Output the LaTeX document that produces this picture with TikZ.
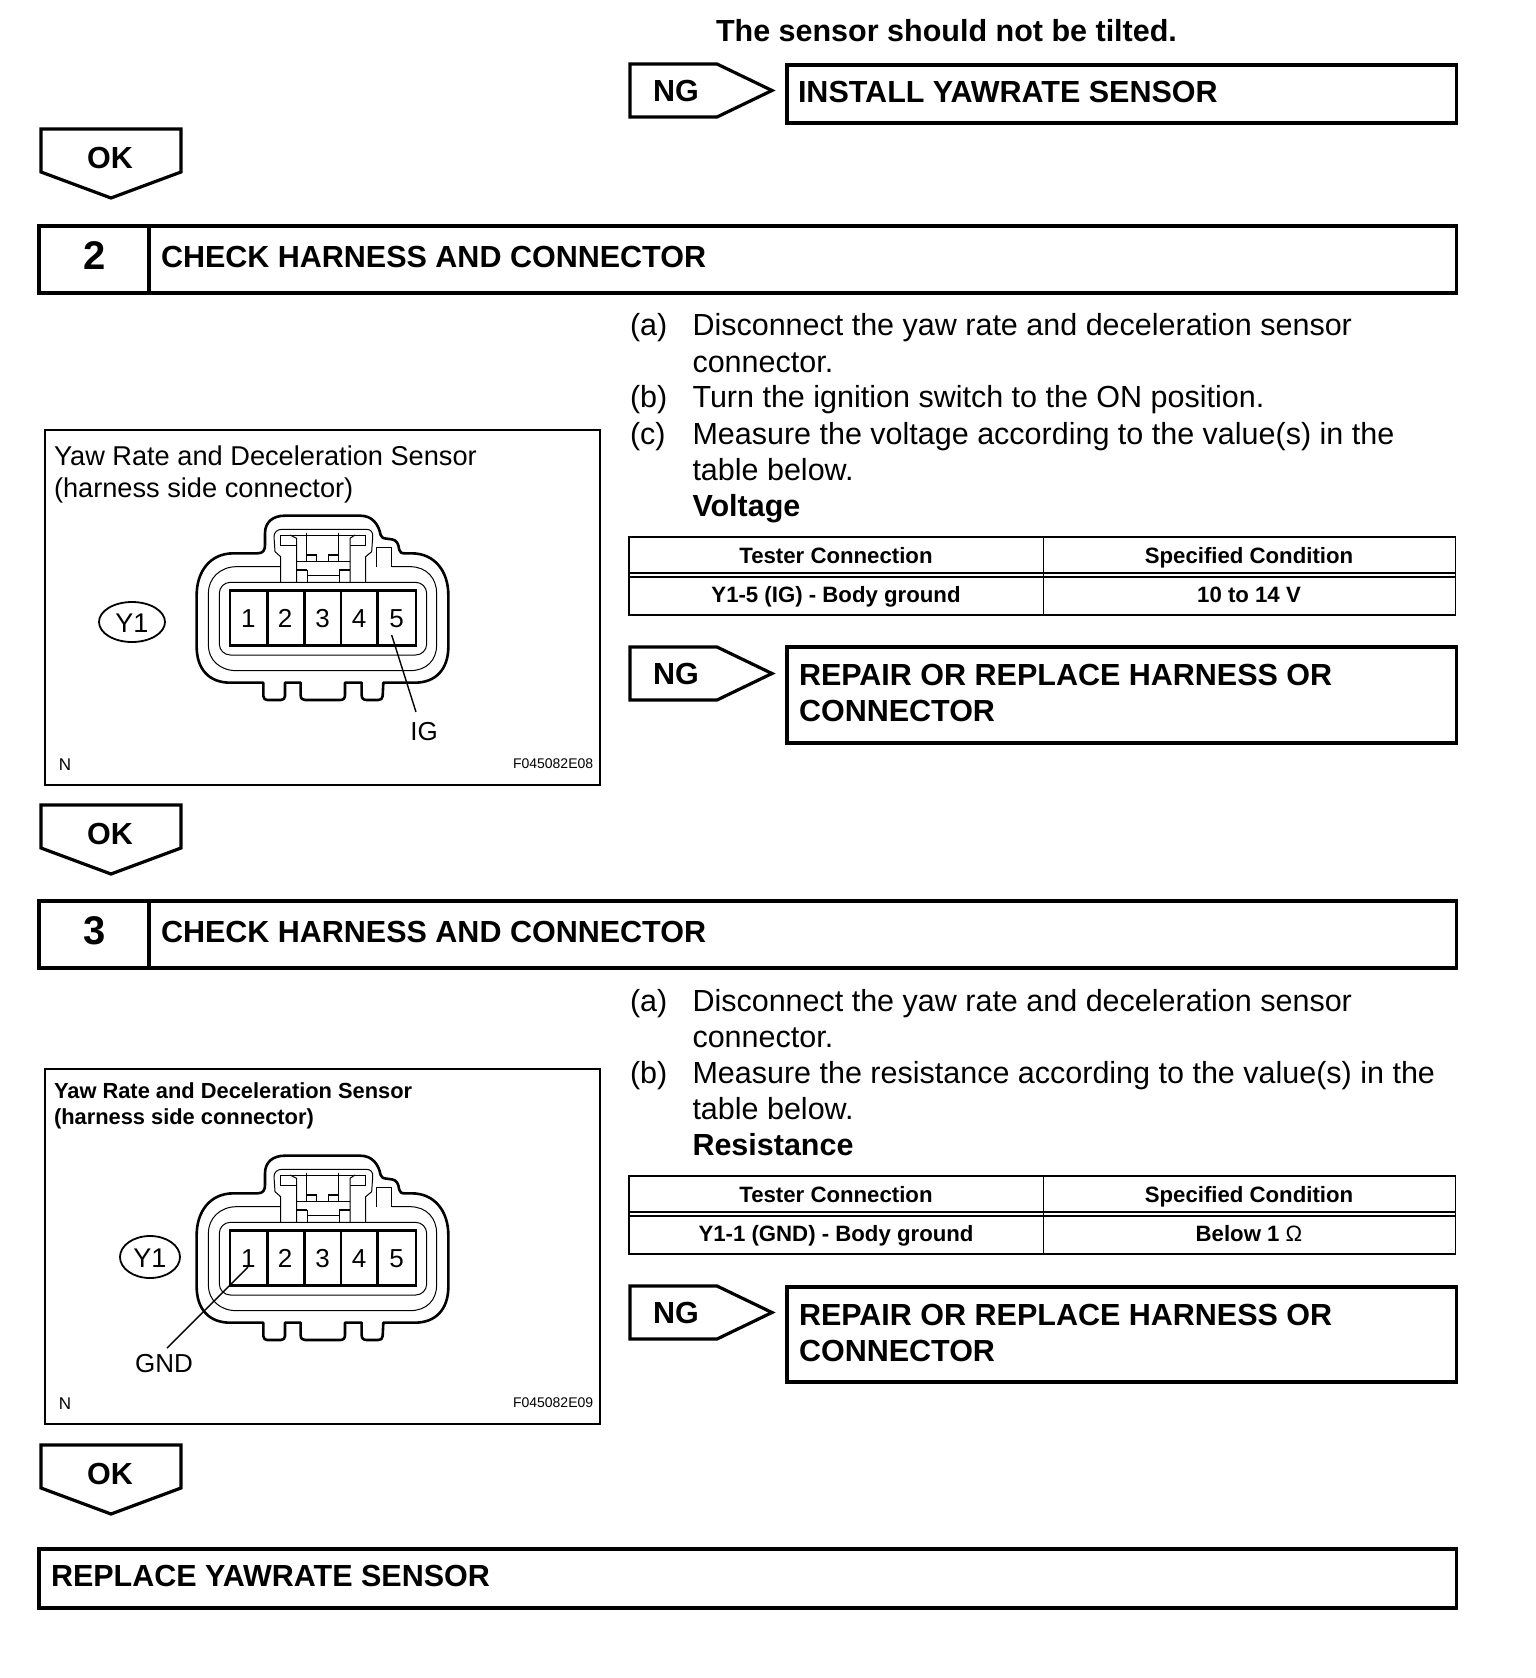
\documentclass[tikz,border=0pt]{standalone}
\usepackage{fontspec}
\setmainfont{Liberation Sans}
\newcommand{\fsz}[1]{\fontsize{#1}{#1}\selectfont}
\tikzset{
  txt/.style={inner sep=0pt,outer sep=0pt,anchor=base west,text=black},
  ctr/.style={inner sep=0pt,outer sep=0pt,anchor=base,text=black},
  body/.style={txt,font=\fsz{30.5}},
  heading/.style={txt,font=\fsz{30.5}\bfseries},
  cell/.style={ctr,font=\fsz{22.2}\bfseries},
  flag/.style={ctr,font=\fsz{30.5}\bfseries},
  boxline/.style={line width=3.6pt,line join=miter},
  flagline/.style={line width=3.2pt,line join=miter},
  tableline/.style={line width=1.8pt},
  figline/.style={line width=1.8pt},
  outerline/.style={line width=2.6pt,line join=round},
  thinline/.style={line width=1pt},
  pinline/.style={line width=2.8pt},
  leader/.style={line width=1.4pt},
  pinno/.style={inner sep=0pt,font=\fsz{26}},
  conn/.pic={
    \draw[outerline] (190,160) -- (262,160) .. controls (280,160) and (285,150) .. (285,135) -- (285,100)
      .. controls (285,65) and (310,47) .. (345,47) -- (570,47)
      .. controls (605,47) and (625,70) .. (632,105) .. controls (634,113) and (640,115) .. (650,116)
      -- (665,118) .. controls (680,120) and (685,130) .. (688,150) .. controls (690,158) and (695,160) .. (705,160)
      -- (725,160) .. controls (795,160) and (835,215) .. (835,285) -- (835,440)
      .. controls (835,510) and (795,548) .. (735,548) -- (640,548) -- (638,588)
      .. controls (638,596) and (632,600) .. (625,600) -- (590,600) .. controls (580,600) and (575,595) .. (575,585)
      -- (575,548) -- (525,548) -- (525,585) .. controls (525,595) and (520,600) .. (510,600)
      -- (405,600) .. controls (397,600) and (392,595) .. (392,585) -- (392,548) -- (345,548) -- (345,588)
      .. controls (345,596) and (340,600) .. (332,600) -- (292,600) .. controls (285,600) and (280,596) .. (280,588)
      -- (280,548) -- (180,548) .. controls (120,548) and (80,510) .. (80,440) -- (80,285)
      .. controls (80,215) and (120,160) .. (190,160) -- cycle;
    \draw[thinline] (332,200) -- (200,200) .. controls (150,200) and (115,235) .. (115,280) -- (115,435)
      .. controls (115,480) and (150,512) .. (200,512) -- (720,512)
      .. controls (770,512) and (800,480) .. (800,435) -- (800,280)
      .. controls (800,235) and (770,200) .. (720,200) -- (665,200);
    \draw[line width=1.6pt] (195,512) -- (720,512);
    \draw[thinline,rounded corners=11pt] (148,247) rectangle (770,465);
    \draw[pinline] (180,272) rectangle (738,436);
    \foreach \px in {292,403,513,623} \draw[pinline] (\px,272) -- (\px,436);
    \node[pinno] (p1) at (235,355) {1};
    \node[pinno] (p2) at (345,355) {2};
    \node[pinno] (p3) at (458,355) {3};
    \node[pinno] (p4) at (567,355) {4};
    \node[pinno] (p5) at (680,355) {5};
    \coordinate (s1) at (234,381);
    \coordinate (s5) at (665,405);
    \draw[thinline] (332,247) -- (332,170) -- (315,155) -- (312,110) .. controls (312,97) and (322,88) .. (335,88)
      -- (590,88) .. controls (603,88) and (610,97) .. (608,112) -- (605,155) -- (587,170) -- (587,247);
    \draw[thinline] (332,105) -- (587,105) -- (587,135) -- (540,135) (332,105) -- (332,135) -- (380,135);
    \draw[thinline] (360,105) -- (380,115) -- (380,247) (555,105) -- (540,115) -- (540,247);
    \draw[line width=1.2pt] (410,100) -- (410,185) (505,100) -- (505,185);
    \draw[line width=1.2pt] (380,185) -- (540,185);
    \draw[line width=1.2pt] (410,165) -- (440,165) -- (440,185) (475,185) -- (475,165) -- (505,165);
    \draw[line width=1.2pt] (380,210) -- (412,210) (508,210) -- (540,210);
    \draw[thinline] (412,210) -- (412,247) (508,210) -- (508,247) (412,225) -- (508,225);
    \draw[thinline] (618,200) -- (618,143) -- (665,143) -- (665,200);
  }
}
\newcommand{\okflag}[2]{% name, top y
  \draw[flagline] (41,#2) -- (181,#2) -- (181,#2+43) -- (111,#2+69) -- (41,#2+43) -- cycle;
  \node[flag] (#1) at (110,#2+39) {OK};
}
\newcommand{\ngflag}[2]{% name, top y
  \draw[flagline] (630,#2) -- (717,#2) -- (772,#2+26.5) -- (717,#2+53) -- (630,#2+53) -- cycle;
  \node[flag] (#1) at (676,#2+37) {NG};
}
\newcommand{\headerbar}[4]{% name, top y, number, text
  \draw[boxline] (39,#2) rectangle (1456.5,#2+67);
  \draw[boxline] (149,#2) -- (149,#2+67);
  \node[ctr,font=\fsz{40}\bfseries] (#1n) at (95,#2+43) {#3};
  \node[heading] (#1t) at (161,#2+41) {#4};
}
\newcommand{\datatable}[5]{% name, top y, left cell, right cell, (unused)
  \draw[tableline] (629,#2) rectangle (1455.5,#2+78);
  \draw[tableline] (629,#2+36) -- (1455.5,#2+36) (629,#2+40) -- (1455.5,#2+40) (1043.5,#2) -- (1043.5,#2+78);
  \node[cell] (#1a) at (836,#2+26) {Tester Connection};
  \node[cell] (#1b) at (1249,#2+26) {Specified Condition};
  \node[cell] (#1c) at (836,#2+65) {#3};
  \node[cell] (#1d) at (1249,#2+65) {#4};
}
\begin{document}
\begin{tikzpicture}[x=1pt,y=-1pt]
\useasboundingbox[fill=white] (0,0) rectangle (1536,1678);

\node[txt,font=\fsz{30.5}\bfseries] (tilt) at (716,42) {The sensor should not be tilted.};
\ngflag{ng1}{64}
\draw[boxline] (787,65) rectangle (1456.5,123);
\node[heading] (install) at (798,102.5) {INSTALL YAWRATE SENSOR};
\okflag{ok1}{129}

\headerbar{h2}{226}{2}{CHECK HARNESS AND CONNECTOR}

\node[body] (a2l) at (630,335) {(a)};
\node[body] (a2) at (692.5,335) {Disconnect the yaw rate and deceleration sensor};
\node[body] (a2b) at (692.5,372) {connector.};
\node[body] (b2l) at (630,407) {(b)};
\node[body] (b2) at (692.5,407) {Turn the ignition switch to the ON position.};
\node[body] (c2l) at (630,444) {(c)};
\node[body] (c2) at (692.5,444) {Measure the voltage according to the value(s) in the};
\node[body] (c2b) at (692.5,480) {table below.};
\node[body,font=\fsz{30.5}\bfseries] (volt) at (692.5,516) {Voltage};
\datatable{t2}{537}{Y1-5 (IG) - Body ground}{10 to 14 V}{}

\ngflag{ng2}{647}
\draw[boxline] (787,647) rectangle (1456.5,743);
\node[heading] (r2a) at (799,685) {REPAIR OR REPLACE HARNESS OR};
\node[heading] (r2b) at (799,721) {CONNECTOR};

\draw[figline] (45,430) rectangle (600,785);
\node[txt,font=\fsz{27.2}] (f2a) at (54,465) {Yaw Rate and Deceleration Sensor};
\node[txt,font=\fsz{27.2}] (f2b) at (54,497.5) {(harness side connector)};
\pic (a) at (170,500) [scale=1/3] {conn};
\draw[line width=1.8pt] (132,622) ellipse [x radius=33,y radius=20];
\node[ctr,font=\fsz{27}] (y1a) at (132,632) {Y1};
\node[ctr,font=\fsz{26}] (ig) at (424,740) {IG};
\coordinate (ige) at (416,712);
\draw[leader] (as5) -- (ige);
\node[ctr,font=\fsz{17}] (n2) at (65,770) {N};
\node[txt,font=\fsz{14}] (c2code) at (513,768) {F045082E08};

\okflag{ok2}{805}

\headerbar{h3}{901}{3}{CHECK HARNESS AND CONNECTOR}

\node[body] (a3l) at (630,1011) {(a)};
\node[body] (a3) at (692.5,1011) {Disconnect the yaw rate and deceleration sensor};
\node[body] (a3b) at (692.5,1047) {connector.};
\node[body] (b3l) at (630,1083) {(b)};
\node[body] (b3) at (692.5,1083) {Measure the resistance according to the value(s) in the};
\node[body] (b3b) at (692.5,1119) {table below.};
\node[body,font=\fsz{30.5}\bfseries] (res) at (692.5,1155) {Resistance};
\datatable{t3}{1176}{Y1-1 (GND) - Body ground}{Below 1 {\fontseries{m}\selectfont Ω}}{}

\ngflag{ng3}{1286}
\draw[boxline] (787,1287) rectangle (1456.5,1382);
\node[heading] (r3a) at (799,1325) {REPAIR OR REPLACE HARNESS OR};
\node[heading] (r3b) at (799,1361) {CONNECTOR};

\draw[figline] (45,1069) rectangle (600,1424);
\node[txt,font=\fsz{21.85}\bfseries] (f3a) at (54,1098) {Yaw Rate and Deceleration Sensor};
\node[txt,font=\fsz{21.85}\bfseries] (f3b) at (54,1124) {(harness side connector)};
\pic (b) at (170,1140) [scale=1/3] {conn};
\draw[line width=1.8pt] (150,1257) ellipse [x radius=30,y radius=21];
\node[ctr,font=\fsz{27}] (y1b) at (150,1267) {Y1};
\node[ctr,font=\fsz{26}] (gnd) at (164,1372) {GND};
\coordinate (gnde) at (167,1348);
\draw[leader] (bs1) -- (gnde);
\node[ctr,font=\fsz{17}] (n3) at (65,1409) {N};
\node[txt,font=\fsz{14}] (c3code) at (513,1407) {F045082E09};

\okflag{ok3}{1445}

\draw[boxline] (39,1549) rectangle (1456.5,1608);
\node[heading] (final) at (51,1586) {REPLACE YAWRATE SENSOR};
\end{tikzpicture}
\end{document}
